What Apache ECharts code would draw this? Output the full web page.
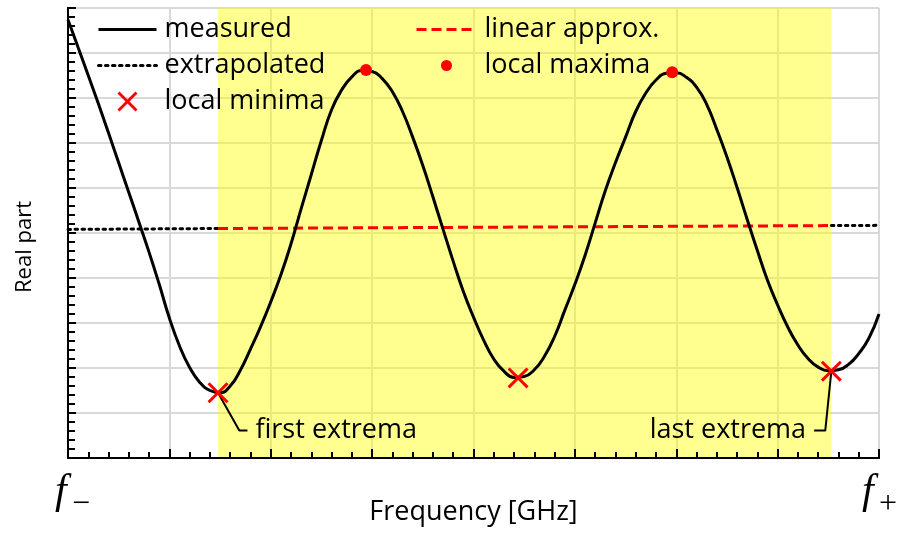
<!DOCTYPE html>
<html><head><meta charset="utf-8">
<script src="https://cdn.jsdelivr.net/npm/echarts@6/dist/echarts.min.js"></script>
<style>html,body{margin:0;padding:0;background:#fff}#c{width:900px;height:534px}</style>
</head><body><div id="c"></div>
<script>
// ---- data ----
const measuredX = [0.0, 0.1, 0.2, 0.3, 0.4, 0.5, 0.6, 0.7, 0.8, 0.9,
  1.0, 1.1, 1.2, 1.3, 1.4, 1.5, 1.6, 1.7, 1.8, 1.9,
  2.0, 2.1, 2.2, 2.3, 2.4, 2.5, 2.6, 2.7, 2.8, 2.9,
  3.0, 3.1, 3.2, 3.3, 3.4, 3.5, 3.6, 3.7, 3.8, 3.9,
  4.0, 4.1, 4.2, 4.3, 4.4, 4.5, 4.6, 4.7, 4.8, 4.9,
  5.0, 5.1, 5.2, 5.3, 5.4, 5.5, 5.6, 5.7, 5.8, 5.9,
  6.0, 6.1, 6.2, 6.3, 6.4, 6.5, 6.6, 6.7, 6.8, 6.9,
  7.0, 7.1, 7.2, 7.3, 7.4, 7.5, 7.6, 7.7, 7.8, 7.9, 8.0];
const measuredY = [9.74, 9.12, 8.50, 7.87, 7.22, 6.56, 5.90, 5.24, 4.57, 3.86,
  3.11, 2.49, 2.01, 1.68, 1.50, 1.45, 1.60, 1.95, 2.42, 2.92,
  3.47, 4.07, 4.76, 5.54, 6.30, 7.06, 7.74, 8.18, 8.47, 8.61,
  8.59, 8.43, 8.14, 7.70, 7.13, 6.50, 5.80, 5.08, 4.37, 3.70,
  3.13, 2.62, 2.20, 1.93, 1.79, 1.81, 1.96, 2.26, 2.70, 3.28,
  3.86, 4.50, 5.22, 5.94, 6.56, 7.13, 7.70, 8.11, 8.40, 8.55,
  8.56, 8.46, 8.24, 7.86, 7.30, 6.69, 6.01, 5.30, 4.61, 3.95,
  3.40, 2.91, 2.51, 2.21, 2.02, 1.94, 1.96, 2.08, 2.32, 2.66, 3.20];
const minimaX = [1.48, 4.44, 7.53];
const minimaY = [1.45, 1.78, 1.93];
const maximaX = [2.94, 5.96];
const maximaY = [8.62, 8.57];
const linearX = [1.48, 7.53];
const linearY = [5.10, 5.165];
const extrapLeftX = [0, 1.48];
const extrapLeftY = [5.08, 5.10];
const extrapRightX = [7.53, 8];
const extrapRightY = [5.165, 5.17];
const leaderFirstX = [1.48, 1.69, 1.77];
const leaderFirstY = [1.45, 0.61, 0.61];
const leaderLastX = [7.53, 7.47, 7.36];
const leaderLastY = [1.93, 0.61, 0.61];
const annotationTexts = ['first extrema', 'last extrema'];
const axisNames = ['Frequency [GHz]', 'Real part'];
const legendLeft = ['measured', 'extrapolated', 'local minima'];
const legendRight = ['linear approx.', 'local maxima'];
const xMin = 0, xMax = 8, yMin = 0, yMax = 10;

const pairs = (xs, ys) => xs.map((x, i) => [x, ys[i]]);
const FONT = 'Open Sans';
const TXT = '#000';
const RED = '#ff0000';
const crossPath = 'path://M0,1 L1,0 L5,4 L9,0 L10,1 L6,5 L10,9 L9,10 L5,6 L1,10 L0,9 L4,5 Z';
const solidStyle = { color: '#000', width: 3 };
const dotStyle = { color: '#000', width: 3, type: [2.5, 4.5], cap: 'round' };
const dashStyle = { color: RED, width: 3, type: [10, 5] };

const chart = echarts.init(document.getElementById('c'));
const grid = { left: 68, right: 21, top: 8, bottom: 76 };

const baseAxisX = { type: 'value', min: xMin, max: xMax, interval: 1, axisLabel: { show: false } };
const baseAxisY = { type: 'value', min: yMin, max: yMax, interval: 1, axisLabel: { show: false } };

function leader(xs, ys, text, pos) {
  const d = pairs(xs, ys).map((p) => ({ value: p }));
  d[d.length - 1].label = { show: true, position: pos, distance: 8, formatter: text,
    fontFamily: FONT, fontSize: 27, color: TXT };
  return { type: 'line', data: d, symbol: 'circle', symbolSize: 0.01, showSymbol: true, silent: true, z: 6,
    lineStyle: { color: '#000', width: 2 }, itemStyle: { color: '#000' },
    label: { show: false }, animation: false };
}
const hideSym = { opacity: 0 };
const legendText = { fontFamily: FONT, fontSize: 27, color: TXT, padding: [0, 0, 0, 3] };

chart.setOption({
  animation: false,
  grid: grid,
  legend: [
    { data: [
        { name: legendLeft[0], itemStyle: hideSym, lineStyle: solidStyle },
        { name: legendLeft[1], itemStyle: hideSym, lineStyle: dotStyle },
        legendLeft[2]],
      orient: 'vertical', left: 97, top: 16, padding: 0, itemWidth: 58, itemHeight: 20, itemGap: 9,
      textStyle: legendText, selectedMode: false },
    { data: [{ name: legendRight[0], itemStyle: hideSym, lineStyle: dashStyle }, legendRight[1]],
      orient: 'vertical', left: 415, top: 16, padding: 0, itemWidth: 60, itemHeight: 11, itemGap: 9,
      textStyle: legendText, selectedMode: false }
  ],
  xAxis: [
    Object.assign({}, baseAxisX, { position: 'bottom', z: 0,
      axisLine: { show: false }, axisTick: { show: false },
      splitLine: { show: true, lineStyle: { color: '#d9d9d9', width: 2 } },
      name: axisNames[0], nameLocation: 'middle', nameGap: 41,
      nameTextStyle: { fontFamily: FONT, fontSize: 27, color: TXT } }),
    Object.assign({}, baseAxisX, { position: 'bottom', z: 10,
      axisLine: { show: true, lineStyle: { color: '#000', width: 2 } },
      axisTick: { show: true, inside: true, length: 9, lineStyle: { color: '#000', width: 2 } },
      minorTick: { show: true, splitNumber: 5, length: 6, lineStyle: { color: '#000', width: 2 } },
      splitLine: { show: false } }),
    Object.assign({}, baseAxisX, { position: 'top', z: 10,
      axisLine: { show: true, lineStyle: { color: '#000', width: 2 } },
      axisTick: { show: false }, splitLine: { show: false } })
  ],
  yAxis: [
    Object.assign({}, baseAxisY, { position: 'left', z: 0,
      axisLine: { show: false }, axisTick: { show: false },
      splitLine: { show: true, lineStyle: { color: '#d9d9d9', width: 2 } },
      name: axisNames[1], nameLocation: 'middle', nameGap: 32,
      nameTextStyle: { fontFamily: FONT, fontSize: 22, color: TXT, padding: [0, 28, 0, 0] } }),
    Object.assign({}, baseAxisY, { position: 'left', z: 10,
      axisLine: { show: true, lineStyle: { color: '#000', width: 2 } },
      axisTick: { show: true, inside: true, length: 8, lineStyle: { color: '#000', width: 2 } },
      minorTick: { show: true, splitNumber: 5, length: 7, lineStyle: { color: '#000', width: 2 } },
      splitLine: { show: false } }),
    Object.assign({}, baseAxisY, { position: 'right', z: 10,
      axisLine: { show: true, lineStyle: { color: '#000', width: 2 } },
      axisTick: { show: false }, splitLine: { show: false } })
  ],
  series: [
    { name: '_band', type: 'line', data: [], z: 1, silent: true,
      markArea: { silent: true, itemStyle: { color: 'rgba(255,255,0,0.44)' },
        data: [[{ xAxis: minimaX[0] }, { xAxis: minimaX[minimaX.length - 1] }]] } },
    { name: 'measured', type: 'line', data: pairs(measuredX, measuredY), smooth: true,
      symbol: 'none', z: 4, lineStyle: solidStyle, itemStyle: { color: '#000' } },
    { name: 'extrapolated', type: 'line', data: pairs(extrapLeftX, extrapLeftY), symbol: 'none', z: 3,
      lineStyle: dotStyle, itemStyle: { color: '#000' } },
    { name: 'extrapolated', type: 'line', data: pairs(extrapRightX, extrapRightY), symbol: 'none', z: 3,
      lineStyle: dotStyle, itemStyle: { color: '#000' } },
    { name: 'linear approx.', type: 'line', data: pairs(linearX, linearY), symbol: 'none', z: 3,
      lineStyle: dashStyle, itemStyle: { color: RED } },
    leader(leaderFirstX, leaderFirstY, annotationTexts[0], 'right'),
    leader(leaderLastX, leaderLastY, annotationTexts[1], 'left'),
    { name: 'local minima', type: 'scatter', data: pairs(minimaX, minimaY), symbol: crossPath,
      symbolSize: 21, z: 8, itemStyle: { color: RED, opacity: 1 } },
    { name: 'local maxima', type: 'scatter', data: pairs(maximaX, maximaY), symbol: 'circle',
      symbolSize: 12, z: 8, itemStyle: { color: RED, opacity: 1 } }
  ]
});

// f- and f+ end labels beneath the axis ends
const p0 = chart.convertToPixel({ xAxisIndex: 0, yAxisIndex: 0 }, [xMin, yMin]);
const p1 = chart.convertToPixel({ xAxisIndex: 0, yAxisIndex: 0 }, [xMax, yMin]);
const fStyle = { fontFamily: 'Liberation Serif', fontStyle: 'italic', fontSize: 42, fill: '#000' };
const sStyle = { fontFamily: 'Liberation Serif', fontSize: 32, fill: '#000' };
chart.setOption({
  graphic: [
    { type: 'text', left: p0[0] - 13, top: p0[1] + 13, style: Object.assign({ text: 'f' }, fStyle) },
    { type: 'text', left: p0[0] + 4, top: p0[1] + 31, style: Object.assign({ text: '\u2212' }, sStyle) },
    { type: 'text', left: p1[0] - 17, top: p1[1] + 13, style: Object.assign({ text: 'f' }, fStyle) },
    { type: 'text', left: p1[0], top: p1[1] + 31, style: Object.assign({ text: '+' }, sStyle) }
  ]
});
</script></body></html>
